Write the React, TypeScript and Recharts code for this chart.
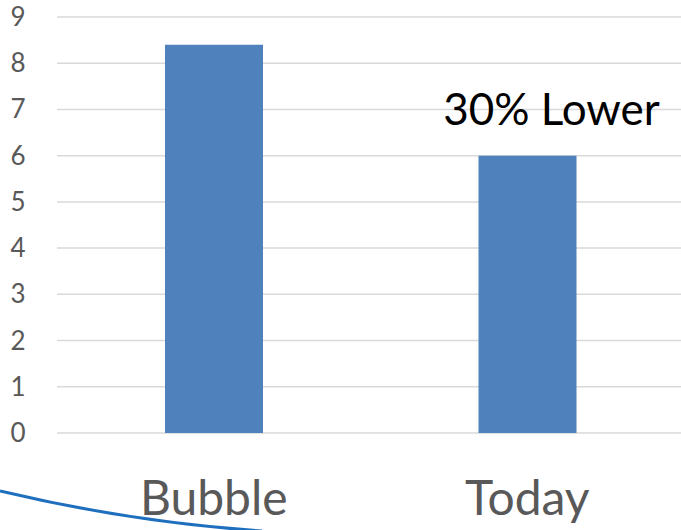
import { BarChart, Bar, XAxis, YAxis, CartesianGrid, LabelList } from 'recharts';

const categories = ['Bubble', 'Today'];
const values = [8.4, 6.0];
const notes = ['', '30% Lower'];
const yTicks = [0, 1, 2, 3, 4, 5, 6, 7, 8, 9];

const data = categories.map((name, i) => ({ name, value: values[i], note: notes[i] }));

const FONT = 'Lato, "Noto Sans", sans-serif';

function YTick(props: any) {
    const { y, payload } = props;
    return (
        <text x={18} y={y + 9} textAnchor="middle" fill="#595959" fontSize={26} fontFamily={FONT}>
            {payload.value}
        </text>
    );
}

function XTick(props: any) {
    const { x, y, payload } = props;
    return (
        <text x={x} y={y + 74} textAnchor="middle" fill="#595959" fontSize={48} fontFamily={FONT}>
            {payload.value}
        </text>
    );
}

function NoteLabel(props: any) {
    const { x, y, width, index } = props;
    const note = data[index]?.note;
    if (!note) return null;
    return (
        <text x={x + width / 2 + 24} y={y - 31} textAnchor="middle" fill="#000000" fontSize={44} fontFamily={FONT}>
            {note}
        </text>
    );
}

export default function App() {
    return (
        <div style={{ position: 'absolute', left: 0, top: 0, width: 681, height: 530, overflow: 'hidden', background: '#ffffff' }}>
            <BarChart width={684} height={530} data={data} margin={{ top: 17, right: 0, bottom: 0, left: 0 }}>
                <CartesianGrid vertical={false} stroke="#d9d9d9" strokeWidth={1.5} />
                <YAxis
                    width={57}
                    domain={[0, 9]}
                    ticks={yTicks}
                    interval={0}
                    axisLine={false}
                    tickLine={false}
                    tick={<YTick />}
                />
                <XAxis dataKey="name" height={97} axisLine={false} tickLine={false} tick={<XTick />} />
                <Bar dataKey="value" fill="#4f81bd" barSize={98} isAnimationActive={false}>
                    <LabelList dataKey="note" content={<NoteLabel />} />
                </Bar>
            </BarChart>
            <svg width={681} height={530} style={{ position: 'absolute', left: 0, top: 0, pointerEvents: 'none' }}>
                <path d="M0,491 Q130,522 262,531" fill="none" stroke="#1f6fbf" strokeWidth={3} />
            </svg>
        </div>
    );
}
